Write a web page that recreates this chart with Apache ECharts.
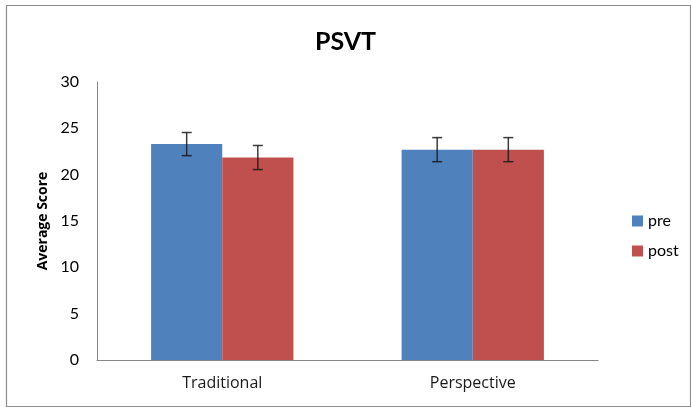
<!DOCTYPE html>
<html>
<head>
<meta charset="utf-8">
<script src="https://cdn.jsdelivr.net/npm/echarts@6/dist/echarts.min.js"></script>
<style>
html,body{margin:0;padding:0;background:#fff;}
#main{width:691px;height:407px;}
</style>
</head>
<body>
<div id="main"></div>
<script>
const categories = ['Traditional', 'Perspective'];
const seriesNames = ['pre', 'post'];
const preValues = [23.3, 22.7];
const postValues = [21.85, 22.7];
const preErrors = [1.25, 1.3];
const postErrors = [1.3, 1.3];
const yTicks = [0, 5, 10, 15, 20, 25, 30];

const BAR_FRAC = 0.284;
const font = 'Lato, "Open Sans", sans-serif';
const font2 = '"Open Sans", Lato, sans-serif';

function errorItem(values, errors, side) {
  return function (params, api) {
    const i = api.value(0);
    const v = values[i], e = errors[i];
    const band = api.size([1, 0])[0];
    const off = side * band * BAR_FRAC / 2;
    const hi = api.coord([i, v + e]);
    const lo = api.coord([i, v - e]);
    const x = hi[0] + off;
    const cap = 5;
    const style = { stroke: '#1a1a1a', lineWidth: 1.5, opacity: 0.85 };
    return {
      type: 'group',
      children: [
        { type: 'line', shape: { x1: x, y1: hi[1], x2: x, y2: lo[1] }, style },
        { type: 'line', shape: { x1: x - cap, y1: hi[1], x2: x + cap, y2: hi[1] }, style },
        { type: 'line', shape: { x1: x - cap, y1: lo[1], x2: x + cap, y2: lo[1] }, style }
      ]
    };
  };
}

const chart = echarts.init(document.getElementById('main'));
chart.setOption({
  animation: false,
  backgroundColor: '#fff',
  graphic: [{
    type: 'rect', left: 4, top: 3,
    shape: { width: 684, height: 401 },
    style: { fill: 'none', stroke: '#8c8c8c', lineWidth: 1.2 },
    silent: true, z: -1
  }],
  title: {
    text: 'PSVT', left: 'center', top: 24,
    textStyle: { fontFamily: font, fontWeight: 'bold', fontSize: 25, color: '#000' }
  },
  legend: {
    orient: 'vertical', left: 627, top: 208,
    itemWidth: 11, itemHeight: 11, itemGap: 14,
    icon: 'rect',
    textStyle: { fontFamily: font, fontSize: 16, color: '#000', padding: [0, 0, 0, 0] },
    data: seriesNames
  },
  grid: { left: 97, right: 93, top: 82, bottom: 47 },
  xAxis: {
    type: 'category', data: categories,
    axisLine: { lineStyle: { color: '#868686', width: 1 } },
    axisTick: { show: false },
    axisLabel: { fontFamily: font2, fontSize: 16, color: '#1a1a1a', margin: 15 }
  },
  yAxis: {
    type: 'value', min: 0, max: 30, interval: 5,
    name: 'Average Score', nameLocation: 'middle', nameGap: 46,
    nameTextStyle: { fontFamily: font2, fontWeight: 'bold', fontSize: 14, color: '#000' },
    axisLine: { show: true, lineStyle: { color: '#868686', width: 1 } },
    axisTick: { show: false },
    splitLine: { show: false },
    axisLabel: {
      fontFamily: font, fontSize: 16, color: '#000', margin: 18,
      formatter: function (v) { return yTicks.indexOf(v) >= 0 ? String(v) : ''; }
    }
  },
  series: [
    { name: 'pre', type: 'bar', data: preValues, barWidth: (BAR_FRAC * 100) + '%', barGap: '0%',
      itemStyle: { color: '#4f81bd' } },
    { name: 'post', type: 'bar', data: postValues, barWidth: (BAR_FRAC * 100) + '%', barGap: '0%',
      itemStyle: { color: '#c0504d' } },
    { type: 'custom', renderItem: errorItem(preValues, preErrors, -1), data: categories.map((c, i) => [i]), z: 10, silent: true, tooltip: { show: false } },
    { type: 'custom', renderItem: errorItem(postValues, postErrors, 1), data: categories.map((c, i) => [i]), z: 10, silent: true, tooltip: { show: false } }
  ]
});
</script>
</body>
</html>
